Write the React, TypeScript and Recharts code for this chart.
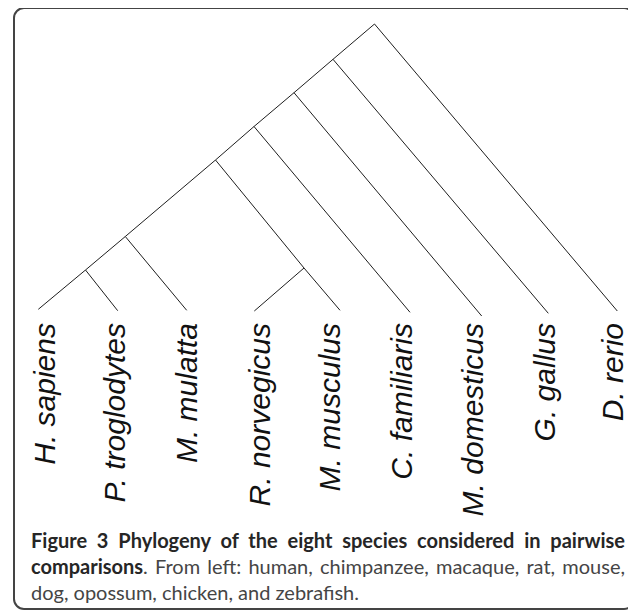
import React from 'react';
import { LineChart, Line, XAxis, YAxis } from 'recharts';

// Tree nodes: horizontal position and height above the leaf level
const nodeIds = ['root', 'nA', 'nB', 'nC', 'nD', 'nE', 'nF', 'nG', 'hsap', 'ptro', 'mmul', 'rnor', 'mmus', 'cfam', 'mdom', 'ggal', 'drer'];
const nodeX = [374.5, 333, 294, 254, 215.5, 125.3, 85.5, 304, 38.3, 117.7, 186.7, 254.3, 340, 410, 481.7, 548.3, 617.3];
const nodeH = [286, 250.7, 217.3, 183.5, 150, 73.5, 40, 42, 0.7, -0.7, -0.3, -1, -0.3, -2.3, -6, -3.3, -1];

// Branches (parent -> child)
const edgeParent = ['root', 'root', 'nA', 'nA', 'nB', 'nB', 'nC', 'nC', 'nD', 'nD', 'nG', 'nG', 'nE', 'nE', 'nF', 'nF'];
const edgeChild = ['nA', 'drer', 'nB', 'ggal', 'nC', 'mdom', 'nD', 'cfam', 'nE', 'nG', 'rnor', 'mmus', 'nF', 'mmul', 'hsap', 'ptro'];

// Leaf labels (tick labels) and their positions
const species = ['H. sapiens', 'P. troglodytes', 'M. mulatta', 'R. norvegicus', 'M. musculus', 'C. familiaris', 'M. domesticus', 'G. gallus', 'D. rerio'];
const labelX = [55, 125, 197, 270, 340, 412, 483, 555, 623];

const pt = (id: string) => {
  const i = nodeIds.indexOf(id);
  return { x: nodeX[i], h: nodeH[i] };
};

const SpeciesTick = (props: any) => {
  const { x, y, payload } = props;
  const i = labelX.indexOf(payload.value);
  return (
    <text
      x={x}
      y={y + 1}
      transform={`rotate(-90 ${x} ${y + 1})`}
      textAnchor="end"
      fontFamily="'Liberation Sans', Arial, Helvetica, sans-serif"
      fontStyle="italic"
      fontSize={30}
      fill="#111"
    >
      {species[i]}
    </text>
  );
};

const captionFont = "Lato, 'Open Sans', sans-serif";

export default function App() {
  return (
    <div style={{ position: 'relative', width: 636, height: 610 }}>
      <div
        style={{
          position: 'absolute',
          left: 5,
          top: -1.5,
          width: 622,
          height: 603,
          boxSizing: 'border-box',
          border: '2px solid #444',
          borderRadius: 11,
        }}
      />
      <div style={{ position: 'absolute', left: -8, top: -8 }}>
        <LineChart width={636} height={560} margin={{ top: 0, right: 0, bottom: 0, left: 0 }}>
          <XAxis
            type="number"
            dataKey="x"
            domain={[0, 636]}
            allowDataOverflow
            ticks={labelX}
            interval={0}
            tick={<SpeciesTick />}
            axisLine={false}
            tickLine={false}
            tickSize={0}
            tickMargin={0}
            height={238}
          />
          <YAxis type="number" dataKey="h" domain={[-12, 310]} allowDataOverflow hide />
          {edgeParent.map((p, k) => (
            <Line
              key={`e${k}`}
              data={[pt(p), pt(edgeChild[k])]}
              dataKey="h"
              stroke="#1e1e1e"
              strokeWidth={1}
              dot={false}
              activeDot={false}
              isAnimationActive={false}
            />
          ))}
        </LineChart>
      </div>
      <div
        style={{
          position: 'absolute',
          left: 23,
          top: 519,
          width: 594,
          fontFamily: captionFont,
          fontSize: 20,
          lineHeight: '26px',
          color: '#454545',
        }}
      >
        <div style={{ textAlign: 'justify', textAlignLast: 'justify', whiteSpace: 'nowrap' }}>
          <b style={{ color: '#262626' }}>Figure 3 Phylogeny of the eight species considered in pairwise</b>
        </div>
        <div style={{ textAlign: 'justify', textAlignLast: 'justify', whiteSpace: 'nowrap' }}>
          <b style={{ color: '#262626' }}>comparisons</b>. From left: human, chimpanzee, macaque, rat, mouse,
        </div>
        <div style={{ whiteSpace: 'nowrap' }}>dog, opossum, chicken, and zebrafish.</div>
      </div>
    </div>
  );
}
